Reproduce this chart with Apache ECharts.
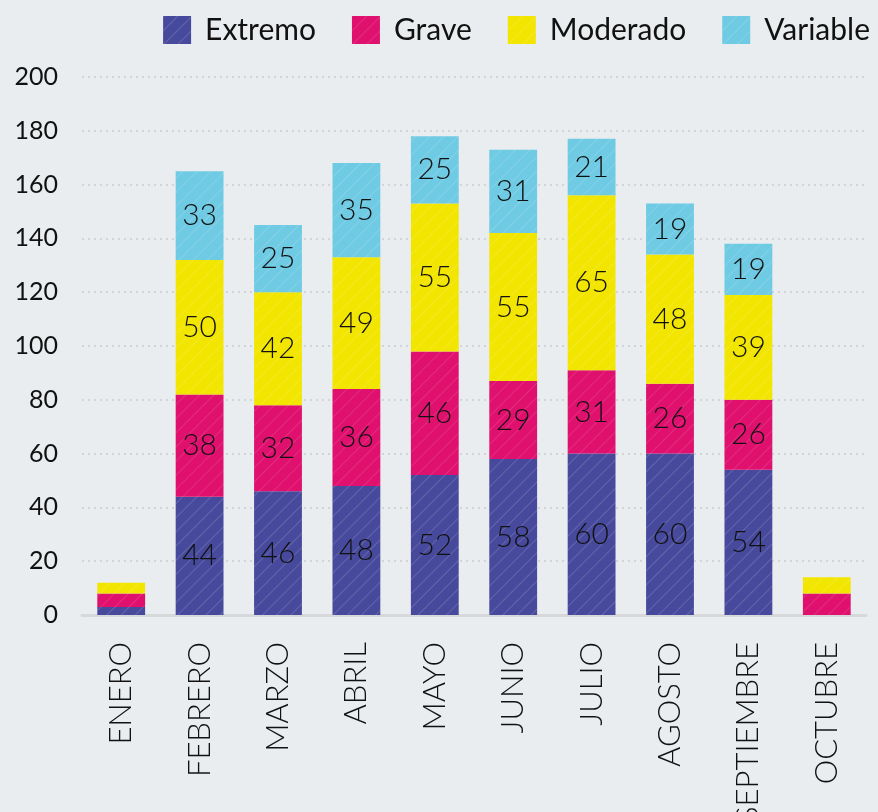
<!DOCTYPE html>
<html>
<head>
<meta charset="utf-8">
<script src="https://cdn.jsdelivr.net/npm/echarts@6/dist/echarts.min.js"></script>
<style>
  html, body { margin: 0; padding: 0; background: #e9edef; }
  #chart { width: 878px; height: 812px; }
</style>
</head>
<body>
<div id="chart"></div>
<script>
const months = ['ENERO', 'FEBRERO', 'MARZO', 'ABRIL', 'MAYO', 'JUNIO', 'JULIO', 'AGOSTO', 'SEPTIEMBRE', 'OCTUBRE'];
const extremo = [3, 44, 46, 48, 52, 58, 60, 60, 54, 0];
const grave = [5, 38, 32, 36, 46, 29, 31, 26, 26, 8];
const moderado = [4, 50, 42, 49, 55, 55, 65, 48, 39, 6];
const variable = [0, 33, 25, 35, 25, 31, 21, 19, 19, 0];

const colors = ['#474a9c', '#e0106e', '#f2e500', '#6fcae3'];

// rayado diagonal de las barras
const hatch = {
  symbol: 'rect',
  dashArrayX: [1, 0],
  dashArrayY: [1, 9],
  rotation: -Math.PI / 4,
  color: 'rgba(255,255,255,0.15)'
};

const makeSeries = (name, data, i) => ({
  name: name,
  type: 'bar',
  stack: 'total',
  data: data,
  barCategoryGap: '39%',
  itemStyle: { color: colors[i], decal: hatch },
  label: {
    show: true,
    position: 'inside',
    color: '#111',
    fontFamily: 'Lato',
    fontWeight: 300,
    fontSize: 30,
    formatter: (p) => (p.value >= 10 ? p.value : '')
  }
});

const chart = echarts.init(document.getElementById('chart'));
chart.setOption({
  backgroundColor: '#e9edef',
  aria: { enabled: true, decal: { show: true } },
  legend: {
    top: 10,
    right: 3,
    itemWidth: 28,
    itemHeight: 28,
    itemGap: 36,
    icon: 'rect',
    textStyle: { fontSize: 30, color: '#111', fontFamily: 'Lato', padding: [0, 0, 0, 9] }
  },
  grid: { left: 82, right: 12, top: 77, bottom: 197, outerBoundsMode: 'none' },
  xAxis: {
    type: 'category',
    data: months,
    axisLine: { lineStyle: { color: '#d6d8da', width: 3 } },
    axisTick: { show: false },
    axisLabel: {
      rotate: 90,
      margin: 27,
      fontSize: 31,
      fontWeight: 300,
      color: '#111',
      fontFamily: 'Lato',
      interval: 0
    }
  },
  yAxis: {
    type: 'value',
    min: 0,
    max: 200,
    interval: 20,
    axisLabel: { fontSize: 25, color: '#111', fontFamily: 'Lato', margin: 24 },
    splitLine: { lineStyle: { color: '#d2d5d8', width: 2, type: [2, 4] } }
  },
  series: [
    makeSeries('Extremo', extremo, 0),
    makeSeries('Grave', grave, 1),
    makeSeries('Moderado', moderado, 2),
    makeSeries('Variable', variable, 3)
  ]
});
</script>
</body>
</html>
